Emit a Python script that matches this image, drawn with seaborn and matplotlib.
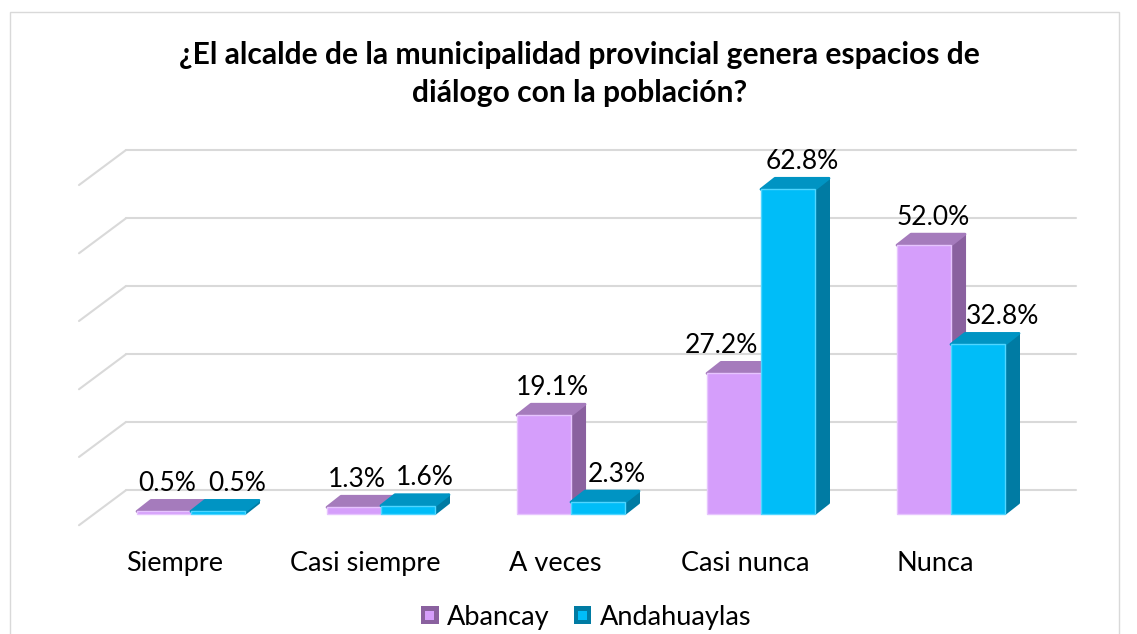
import matplotlib
matplotlib.use("Agg")
import matplotlib.pyplot as plt
from matplotlib.patches import Rectangle
from matplotlib.legend_handler import HandlerBase
from matplotlib.transforms import ScaledTranslation
import pandas as pd
import seaborn as sns

# data
categories = ["Siempre", "Casi siempre", "A veces", "Casi nunca", "Nunca"]
abancay = [0.5, 1.3, 19.1, 27.2, 52.0]
andahuaylas = [0.5, 1.6, 2.3, 62.8, 32.8]
series_names = ["Abancay", "Andahuaylas"]

# the gridlines have no labels, these are their heights on the same scale as the bars
grid_levels = [4.6, 17.8, 30.9, 44.1, 57.2, 70.4]

# colours: front, side, top, highlight
purple = ["#D59EFB", "#8A619F", "#A57BBC", "#E6C4FE"]
blue = ["#00BDF8", "#007BA3", "#0094C3", "#4FD6FF"]
grid_color = "#D9D9D9"

# label nudges in pixels, the labels are not centred on the bars in the original
nudge_abancay = [3, 3, 8, -13, 9]
nudge_andahuaylas = [19, 17, 19, 14, 25]

sns.set_theme(style="white")
plt.rcParams["font.family"] = ["Lato", "DejaVu Sans"]

fig_w, fig_h = 1137, 634
fig = plt.figure(figsize=(fig_w / 100, fig_h / 100), dpi=100)

# axes placed in pixels: left 79, right 1076, top 150, bottom 525
ax = fig.add_axes([79 / fig_w, 1 - 525 / fig_h, (1076 - 79) / fig_w, (525 - 150) / fig_h])

df = pd.DataFrame({
    "categoria": categories * 2,
    "serie": [series_names[0]] * 5 + [series_names[1]] * 5,
    "valor": abancay + andahuaylas,
})

sns.barplot(data=df, x="categoria", y="valor", hue="serie", order=categories,
            hue_order=series_names, palette=[purple[0], blue[0]], width=0.568,
            gap=0, dodge=True, legend=False, ax=ax, errorbar=None, saturation=1)

px_x = 190.0   # pixels per category
px_y = 5.17    # pixels per percent
ax.set_xlim(-112 / px_x, 885 / px_x)
ax.set_ylim(-11 / px_y, 364 / px_y)

# the 3d depth of the bars and of the floor
depth_x = 14 / px_x
depth_y = 11 / px_y
floor_x = 47 / px_x
floor_y = 35 / px_y

# back wall gridlines plus the short diagonal on the left
x0, x1 = ax.get_xlim()
for level in grid_levels:
    ax.plot([x0 + floor_x, x1], [level, level], color=grid_color, lw=1.5, zorder=1, clip_on=False)
    ax.plot([x0, x0 + floor_x], [level - floor_y, level], color=grid_color, lw=1.5, zorder=1, clip_on=False)

# side and top faces built from each bar seaborn drew
for i, (container, cols) in enumerate(zip(ax.containers, [purple, blue])):
    base_z = 3 + i * 3
    for bar in container:
        left = bar.get_x()
        right = left + bar.get_width()
        top = bar.get_height()
        ax.fill([right, right + depth_x, right + depth_x, right],
                [0, depth_y, top + depth_y, top],
                color=cols[1], lw=1.5, joinstyle="round", zorder=base_z)
        ax.fill([left, left + depth_x, right + depth_x, right],
                [top, top + depth_y, top + depth_y, top],
                color=cols[2], lw=2, joinstyle="round", zorder=base_z + 1)
        bar.set_zorder(base_z + 2)
        bar.set_edgecolor(cols[3])
        bar.set_linewidth(1)

# data labels
for container, values, nudges in zip(ax.containers, [abancay, andahuaylas],
                                     [nudge_abancay, nudge_andahuaylas]):
    for bar, val, nudge in zip(container, values, nudges):
        ax.annotate(f"{val:.1f}%", xy=(bar.get_x() + bar.get_width() / 2, val),
                    xytext=(nudge, 28), textcoords="offset pixels",
                    ha="center", va="center", fontsize=19, color="black", zorder=20)

ax.set_xlabel("")
ax.set_ylabel("")
ax.set_yticks([])
ax.set_xticks(range(len(categories)))
ax.set_xticklabels(categories, fontsize=19.5, color="black")
ax.tick_params(axis="x", length=0, pad=19)
# category names sit a bit left of their bars
shift = ScaledTranslation(-16 / 100, 0, fig.dpi_scale_trans)
for lab in ax.get_xticklabels():
    lab.set_transform(lab.get_transform() + shift)
sns.despine(ax=ax, left=True, bottom=True)
ax.patch.set_alpha(0)

fig.text(579.5 / fig_w, 1 - 74 / fig_h,
         "¿El alcalde de la municipalidad provincial genera espacios de\ndiálogo con la población?",
         ha="center", va="center", fontsize=21.6, fontweight="bold", color="black", linespacing=1.42)


# bevelled little square for the legend
class BevelHandler(HandlerBase):
    def create_artists(self, legend, orig, xd, yd, width, height, fontsize, trans):
        side = min(width, height)
        outer = Rectangle((xd * -1, -yd), side, side, facecolor=orig.get_edgecolor(),
                          edgecolor="none", transform=trans)
        inner = Rectangle((-xd + side * 0.25, -yd + side * 0.25), side * 0.5, side * 0.5,
                          facecolor=orig.get_facecolor(), edgecolor="none", transform=trans)
        return [outer, inner]


handles = [Rectangle((0, 0), 1, 1, facecolor=purple[0], edgecolor=purple[1]),
           Rectangle((0, 0), 1, 1, facecolor=blue[0], edgecolor=blue[1])]
fig.legend(handles, series_names, loc="center", bbox_to_anchor=(586 / fig_w, 1 - 617 / fig_h),
           ncol=2, frameon=False, fontsize=19.5, handler_map={Rectangle: BevelHandler()},
           handlelength=0.65, handleheight=0.65, handletextpad=0.3, columnspacing=0.9,
           labelcolor="black")

# chart area border, it runs off the bottom of the image
fig.add_artist(Rectangle((10 / fig_w, 1 - 640 / fig_h), 1109 / fig_w, 628 / fig_h, fill=False,
                         edgecolor="#D9D9D9", lw=1, transform=fig.transFigure))

fig.savefig("out.png", dpi=100)
